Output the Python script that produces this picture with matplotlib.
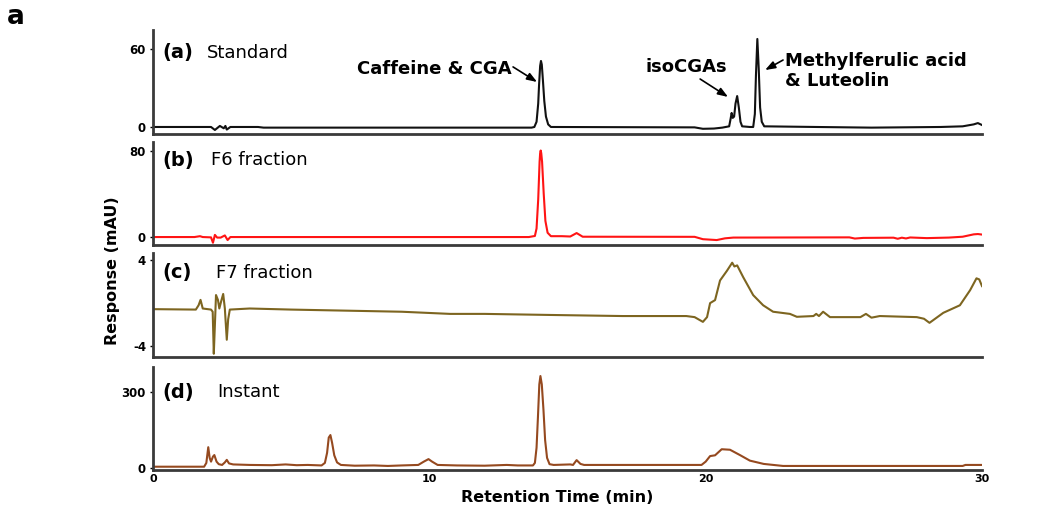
import matplotlib.pyplot as plt

# chromatogram traces: retention time (min) and response (mAU)
a_time = [0, 2.1, 2.24, 2.42, 2.56, 2.62, 2.67, 2.8, 3.8, 4.0, 13.7, 13.8, 13.88, 13.94, 13.97, 14.01,
          14.04, 14.07, 14.11, 14.16, 14.22, 14.3, 14.4, 19.6, 19.9, 20.3, 20.6, 20.85, 20.9, 20.94,
          20.98, 21.03, 21.08, 21.14, 21.2, 21.26, 21.32, 21.6, 21.72, 21.78, 21.82, 21.87, 21.92,
          21.97, 22.03, 22.12, 24.0, 26.0, 28.5, 29.3, 29.7, 29.85, 30]
a_resp = [0, 0, -2.3, 0.8, -1.0, 0.8, -2.0, 0, 0, -0.5, -0.5, 0, 4, 18, 32, 47,
          50.8, 48, 36, 20, 8, 2, 0, -0.3, -1.4, -1.2, -0.5, 0.5, 6, 10.8,
          7, 8, 18, 23.8, 15, 4, 0.5, 0, 0, 10, 40, 67.7, 45,
          15, 4, 0.5, 0, -0.5, 0, 0.5, 2, 3, 1.5]

b_time = [0, 1.5, 1.7, 1.8, 2.1, 2.17, 2.24, 2.32, 2.45, 2.6, 2.7, 2.8, 13.6, 13.82, 13.88, 13.94,
          13.99, 14.01, 14.03, 14.05, 14.08, 14.14, 14.2, 14.28, 14.4, 14.8, 15.1, 15.33, 15.55,
          19.6, 19.9, 20.4, 20.7, 21.0, 25.2, 25.4, 25.7, 26.8, 26.95, 27.1, 27.25, 27.4, 28.0,
          28.8, 29.3, 29.7, 29.85, 30]
b_resp = [0, 0, 0.8, 0, -0.3, -5.3, 2.0, -0.5, -0.5, 1.5, -2.8, 0, 0, 1, 8, 35,
          70, 78, 80.5, 78, 70, 40, 15, 4, 0.8, 0.8, 0.5, 3.7, 0.3,
          0.2, -2.0, -2.8, -1.2, -0.5, -0.3, -1.4, -0.8, -0.6, -1.6, -0.6, -1.3, -0.4, -1.0,
          -0.5, 0.3, 2.5, 2.8, 2.3]

c_time = [0, 1.55, 1.65, 1.72, 1.8, 2.1, 2.16, 2.2, 2.24, 2.28, 2.35, 2.4, 2.47, 2.54, 2.6, 2.67,
          2.72, 2.78, 3.5, 5.0, 7.0, 9.0, 10.75, 12.0, 14.4, 17.0, 19.3, 19.6, 19.9, 20.05, 20.16,
          20.34, 20.52, 20.77, 20.96, 21.04, 21.14, 21.36, 21.72, 22.08, 22.44, 23.05, 23.3, 23.9,
          24.0, 24.1, 24.25, 24.5, 25.6, 25.8, 26.0, 26.3, 27.64, 27.9, 28.1, 28.6, 29.2, 29.57,
          29.8, 29.9, 30]
c_resp = [-0.56, -0.6, -0.2, 0.3, -0.5, -0.6, -0.8, -4.7, -2.0, 0.75, 0.3, -0.5, 0.2, 0.85, -0.5, -3.4,
          -1.5, -0.6, -0.5, -0.6, -0.7, -0.8, -1.0, -1.0, -1.1, -1.2, -1.2, -1.3, -1.74, -1.3, 0.0,
          0.28, 2.1, 3.0, 3.75, 3.4, 3.5, 2.4, 0.74, -0.2, -0.8, -1.0, -1.27, -1.2,
          -1.0, -1.2, -0.8, -1.3, -1.3, -1.0, -1.35, -1.2, -1.3, -1.45, -1.83, -0.9, -0.2, 1.2,
          2.3, 2.2, 1.58]

d_time = [0, 1.85, 1.93, 2.0, 2.05, 2.1, 2.17, 2.22, 2.3, 2.38, 2.5, 2.6, 2.67, 2.75, 2.9, 3.5,
          4.3, 4.8, 5.2, 5.6, 6.1, 6.22, 6.3, 6.36, 6.42, 6.48, 6.56, 6.66, 6.8, 7.3, 8.0, 8.5,
          9.0, 9.6, 9.8, 9.97, 10.1, 10.3, 11.0, 12.0, 12.8, 13.2, 13.75, 13.82, 13.88, 13.93,
          13.98, 14.02, 14.07, 14.13, 14.19, 14.26, 14.35, 14.5, 15.1, 15.2, 15.33, 15.47, 15.6,
          19.85, 20.0, 20.16, 20.34, 20.58, 20.88, 21.24, 21.6, 22.1, 22.8, 29.3, 29.4, 30]
d_resp = [5, 5, 20, 82, 40, 25, 45, 51, 25, 15, 12, 22, 32, 18, 14, 12,
          11, 14, 11, 12, 10, 20, 60, 120, 130, 100, 50, 22, 12, 9, 10, 8,
          10, 12, 25, 35, 25, 12, 10, 9, 12, 10, 10, 20, 80, 200,
          330, 363, 330, 230, 110, 40, 15, 12, 14, 12, 31, 16, 12,
          12, 25, 47, 50, 74, 72, 51, 29, 16, 8, 8, 12, 12]

panels = [
    # times, values, colour, ylim, yticks, tag, name, name x, text y
    (a_time, a_resp, "#111111", (-5.4, 74.6), [0, 60], "(a)", "Standard", 0.065, 0.779),
    (b_time, b_resp, "#ff1414", (-7.4, 88.4), [0, 80], "(b)", "F6 fraction", 0.070, 0.825),
    (c_time, c_resp, "#7d6520", (-5.0, 4.65), [-4, 4], "(c)", "F7 fraction", 0.076, 0.808),
    (d_time, d_resp, "#95491f", (-8, 398.7), [0, 300], "(d)", "Instant", 0.078, 0.757),
]
# axes boxes in pixels: (top, bottom)
boxes = [(30, 134), (142, 245), (253, 357), (367, 470)]

W, H = 1037, 528
fig = plt.figure(figsize=(W / 100, H / 100), dpi=100)

axes = []
for (t, v, col, ylim, yt, tag, name, nx, ty), (top, bot) in zip(panels, boxes):
    ax = fig.add_axes([153 / W, 1 - bot / H, 829 / W, (bot - top) / H])
    ax.plot(t, v, color=col, lw=1.5)
    ax.set_xlim(0, 30)
    ax.set_ylim(*ylim)
    ax.set_yticks(yt)
    ax.set_yticklabels([str(y) for y in yt], fontsize=8.5, fontweight="bold")
    for s in ["top", "right"]:
        ax.spines[s].set_visible(False)
    for s in ["left", "bottom"]:
        ax.spines[s].set_color("#3a3a3a")
        ax.spines[s].set_linewidth(2)
    ax.tick_params(axis="y", length=2, width=1, pad=3)
    ax.tick_params(axis="x", length=0, pad=3)
    ax.set_xticks([0, 10, 20, 30])
    ax.set_xticklabels([])
    ax.text(0.011, ty, tag, transform=ax.transAxes, fontsize=14, fontweight="bold",
            ha="left", va="center")
    ax.text(nx, ty, name, transform=ax.transAxes, fontsize=13, ha="left", va="center")
    axes.append(ax)

axes[-1].set_xticklabels(["0", "10", "20", "30"], fontsize=8, fontweight="bold")

# peak labels in the standard trace
ax = axes[0]
arrow = dict(arrowstyle="-|>,head_length=0.6,head_width=0.22", color="black", lw=1.2,
             shrinkA=0, shrinkB=0)
ax.text(12.96, 44.6, "Caffeine & CGA", fontsize=13, fontweight="bold", ha="right", va="center")
ax.annotate("", xy=(13.9, 34.6), xytext=(13.03, 46.2), arrowprops=arrow)
ax.text(19.31, 46.2, "isoCGAs", fontsize=13, fontweight="bold", ha="center", va="center")
ax.annotate("", xy=(20.81, 23.1), xytext=(19.8, 36.9), arrowprops=arrow)
ax.text(22.87, 43.0, "Methylferulic acid\n& Luteolin", fontsize=13, fontweight="bold",
        ha="left", va="center", linespacing=1.15)
ax.annotate("", xy=(22.15, 43.8), xytext=(22.8, 51.5), arrowprops=arrow)

fig.text(112 / W, 1 - 271 / H, "Response (mAU)", rotation=90, fontsize=11.5,
         fontweight="bold", ha="center", va="center")
fig.text(557 / W, 1 - 498 / H, "Retention Time (min)", fontsize=11.5,
         fontweight="bold", ha="center", va="center")
fig.text(7 / W, 1 - 17 / H, "a", fontsize=19, fontweight="bold", ha="left", va="center")

fig.savefig("out.png", dpi=100)
